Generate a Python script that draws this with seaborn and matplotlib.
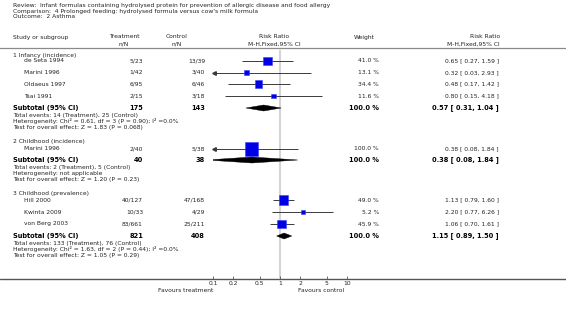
import matplotlib
matplotlib.use("Agg")
import matplotlib.pyplot as plt
from matplotlib.patches import Polygon
import seaborn as sns
import pandas as pd
import numpy as np

# ---------------- data ----------------
title_lines = [
    "Review:  Infant formulas containing hydrolysed protein for prevention of allergic disease and food allergy",
    "Comparison:  4 Prolonged feeding: hydrolysed formula versus cow's milk formula",
    "Outcome:  2 Asthma",
]
groups = ["1 Infancy (incidence)", "2 Childhood (incidence)", "3 Childhood (prevalence)"]

study_group = [0, 0, 0, 0, 1, 2, 2, 2]
study_names = ["de Seta 1994", "Marini 1996", "Oldaeus 1997", "Tsai 1991",
               "Marini 1996", "Hill 2000", "Kwinta 2009", "von Berg 2003"]
treat_nN = ["5/23", "1/42", "6/95", "2/15", "2/40", "40/127", "10/33", "83/661"]
ctrl_nN = ["13/39", "3/40", "6/46", "3/18", "5/38", "47/168", "4/29", "25/211"]
study_rr = [0.65, 0.32, 0.48, 0.80, 0.38, 1.13, 2.20, 1.06]
study_lo = [0.27, 0.03, 0.17, 0.15, 0.08, 0.79, 0.77, 0.70]
study_hi = [1.59, 2.93, 1.42, 4.18, 1.84, 1.60, 6.26, 1.61]
study_wt = [41.0, 13.1, 34.4, 11.6, 100.0, 49.0, 5.2, 45.9]

sub_treat_N = [175, 40, 821]
sub_ctrl_N = [143, 38, 408]
sub_rr = [0.57, 0.38, 1.15]
sub_lo = [0.31, 0.08, 0.89]
sub_hi = [1.04, 1.84, 1.50]
sub_wt = [100.0, 100.0, 100.0]
sub_notes = [
    ["Total events: 14 (Treatment), 25 (Control)",
     "Heterogeneity: Chi\u00b2 = 0.61, df = 3 (P = 0.90); I\u00b2 =0.0%",
     "Test for overall effect: Z = 1.83 (P = 0.068)"],
    ["Total events: 2 (Treatment), 5 (Control)",
     "Heterogeneity: not applicable",
     "Test for overall effect: Z = 1.20 (P = 0.23)"],
    ["Total events: 133 (Treatment), 76 (Control)",
     "Heterogeneity: Chi\u00b2 = 1.63, df = 2 (P = 0.44); I\u00b2 =0.0%",
     "Test for overall effect: Z = 1.05 (P = 0.29)"],
]
tick_values = [0.1, 0.2, 0.5, 1, 2, 5, 10]
tick_labels = ["0.1", "0.2", "0.5", "1", "2", "5", "10"]

# ---------------- layout (pixel rows) ----------------
W, H = 566, 309
title_y = [5, 11, 17]
hdr1_y, hdr2_y, hdr_line_y = 37, 44, 48
group_y = [55, 141, 193]
study_y = [61, 72.5, 84, 96, 149, 200, 212, 224]
sub_y = [108, 160, 236]
note_y = [[115, 121, 127], [167, 173, 179], [243, 249, 255]]
axis_y = 279
plot_x0, plot_x1 = 213, 347

sns.set_style("white")
plt.rcParams["font.family"] = ["DejaVu Sans"]

FS = 4.3
FSB = 4.8
TC = "#222222"

fig = plt.figure(figsize=(W / 100, H / 100), dpi=100)
ax = fig.add_axes([0, 0, 1, 1])
ax.set_xlim(0, W)
ax.set_ylim(H, 0)
ax.axis("off")

# titles
for t, y in zip(title_lines, title_y):
    ax.text(13, y, t, fontsize=FS, color=TC, va="center", ha="left")

# headers
ax.text(13, hdr1_y, "Study or subgroup", fontsize=FS, color=TC, va="center")
ax.text(124, hdr1_y, "Treatment", fontsize=FS, color=TC, va="center", ha="center")
ax.text(124, hdr2_y, "n/N", fontsize=FS, color=TC, va="center", ha="center")
ax.text(177, hdr1_y, "Control", fontsize=FS, color=TC, va="center", ha="center")
ax.text(177, hdr2_y, "n/N", fontsize=FS, color=TC, va="center", ha="center")
ax.text(274, hdr1_y, "Risk Ratio", fontsize=FS, color=TC, va="center", ha="center")
ax.text(274, hdr2_y, "M-H,Fixed,95% CI", fontsize=FS, color=TC, va="center", ha="center")
ax.text(364, hdr1_y, "Weight", fontsize=FS, color=TC, va="center", ha="center")
ax.text(500, hdr1_y, "Risk Ratio", fontsize=FS, color=TC, va="center", ha="right")
ax.text(500, hdr2_y, "M-H,Fixed,95% CI", fontsize=FS, color=TC, va="center", ha="right")
ax.plot([0, W], [hdr_line_y, hdr_line_y], color="#8a8a8a", lw=0.9)

# groups, studies
for g, y in zip(groups, group_y):
    ax.text(13, y, g, fontsize=FS, color=TC, va="center")
for i, y in enumerate(study_y):
    ax.text(24, y, study_names[i], fontsize=FS, color=TC, va="center")
    ax.text(143, y, treat_nN[i], fontsize=FS, color=TC, va="center", ha="right")
    ax.text(205, y, ctrl_nN[i], fontsize=FS, color=TC, va="center", ha="right")
    ax.text(379, y, f"{study_wt[i]:.1f} %", fontsize=FS, color=TC, va="center", ha="right")
    ax.text(499, y, f"{study_rr[i]:.2f} [ {study_lo[i]:.2f}, {study_hi[i]:.2f} ]",
            fontsize=FS, color=TC, va="center", ha="right")

for k, y in enumerate(sub_y):
    ax.text(13, y, "Subtotal (95% CI)", fontsize=FSB, color="black", va="center", weight="bold")
    ax.text(143, y, str(sub_treat_N[k]), fontsize=FSB, color="black", va="center", ha="right", weight="bold")
    ax.text(205, y, str(sub_ctrl_N[k]), fontsize=FSB, color="black", va="center", ha="right", weight="bold")
    ax.text(379, y, f"{sub_wt[k]:.1f} %", fontsize=FSB, color="black", va="center", ha="right", weight="bold")
    ax.text(499, y, f"{sub_rr[k]:.2f} [ {sub_lo[k]:.2f}, {sub_hi[k]:.2f} ]",
            fontsize=FSB, color="black", va="center", ha="right", weight="bold")
    for note, ny in zip(sub_notes[k], note_y[k]):
        ax.text(13, ny, note, fontsize=FS, color=TC, va="center")

# axis line across full width
ax.plot([0, W], [axis_y, axis_y], color="#555555", lw=1.0)
ax.text(plot_x0, 291, "Favours treatment", fontsize=FS, color=TC, va="center", ha="right")
ax.text(298, 291, "Favours control", fontsize=FS, color=TC, va="center", ha="left")

# ---------------- forest axes ----------------
top_y = 50
fax = fig.add_axes([plot_x0 / W, (H - axis_y) / H, (plot_x1 - plot_x0) / W, (axis_y - top_y) / H])
fax.set_facecolor("none")
fax.set_xscale("log")
fax.set_xlim(tick_values[0], tick_values[-1])
fax.set_ylim(axis_y, top_y)
for s in fax.spines.values():
    s.set_visible(False)
fax.set_xticks(tick_values)
fax.set_xticklabels(tick_labels)
fax.xaxis.set_minor_locator(matplotlib.ticker.NullLocator())
fax.tick_params(axis="x", direction="in", length=2.5, width=0.6, color="#555555",
                labelsize=FS, labelcolor=TC, pad=1.5, bottom=True)
fax.set_yticks([])

# line of no effect
fax.axvline(1, color="#d4d4d4", lw=1.5, zorder=0)

xmin, xmax = tick_values[0], tick_values[-1]
for i, y in enumerate(study_y):
    lo = max(study_lo[i], xmin)
    hi = min(study_hi[i], xmax)
    fax.plot([lo, hi], [y, y], color="#3a3a3a", lw=0.7, zorder=2, solid_capstyle="butt")
    if study_lo[i] < xmin:
        fax.plot([xmin * 1.04], [y], marker="<", ms=2.6, color="#3a3a3a", zorder=3, clip_on=False)
    if study_hi[i] > xmax:
        fax.plot([xmax / 1.04], [y], marker=">", ms=2.6, color="#3a3a3a", zorder=3, clip_on=False)

# square area follows weight, with a minimum visible size
df = pd.DataFrame({"rr": study_rr, "y": study_y, "weight": study_wt})
df["msize"] = np.clip(df["weight"], 9.5, None)
sns.scatterplot(data=df, x="rr", y="y", size="msize", sizes=(0, 88), size_norm=(0, 100),
                marker="s", color="#0000e6", edgecolor="#3d3dff", linewidth=0.4,
                legend=False, ax=fax, zorder=4)
fax.set_xlabel("")
fax.set_ylabel("")

for k, y in enumerate(sub_y):
    h = 3.0
    poly = Polygon([(sub_lo[k], y), (sub_rr[k], y - h), (sub_hi[k], y), (sub_rr[k], y + h)],
                   closed=True, facecolor="black", edgecolor="black", lw=0.3, zorder=4)
    fax.add_patch(poly)

fig.savefig("out.png", dpi=100)
